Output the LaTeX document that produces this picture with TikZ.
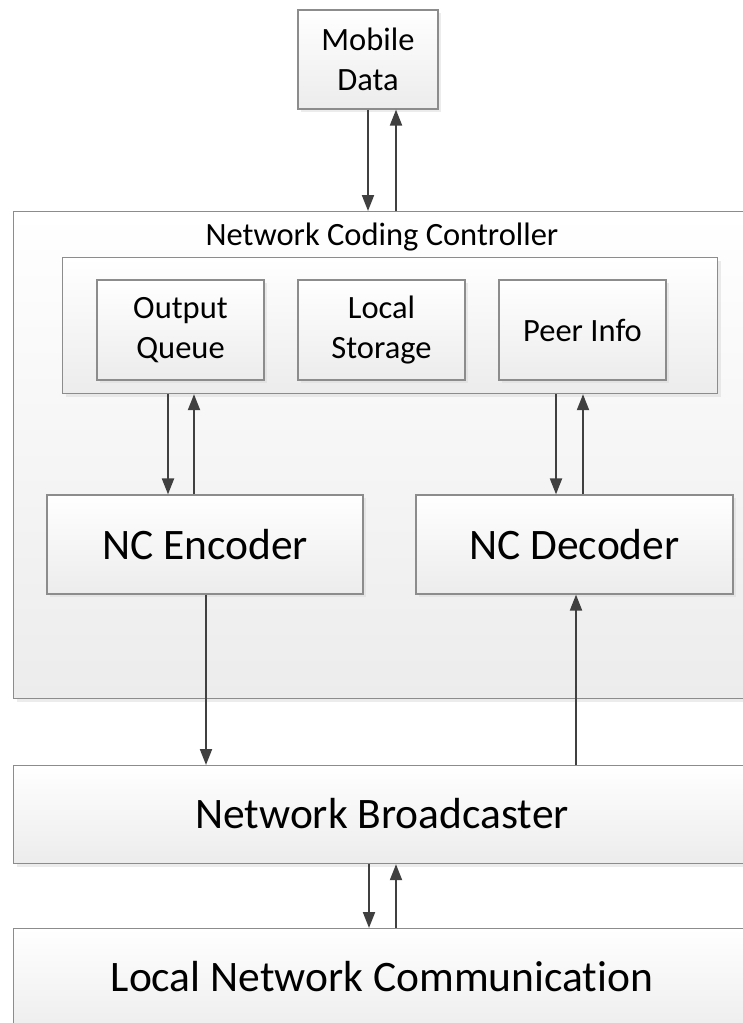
\documentclass[tikz,border=0pt]{standalone}
\usepackage{fontspec}
\setmainfont[Ligatures=NoCommon]{Carlito}
\usetikzlibrary{arrows.meta,shadows,calc}
\definecolor{edge}{RGB}{140,140,140}
\definecolor{boxlow}{RGB}{236,236,236}
\definecolor{wire}{RGB}{64,64,64}
\tikzset{
  blk/.style={draw=edge, line width=1.2pt, top color=white, bottom color=boxlow,
    drop shadow={shadow xshift=3pt, shadow yshift=-3pt, fill=black!15, opacity=0.5},
    inner sep=0pt, align=center, text=black},
  small/.style={font=\fontsize{32.5}{40}\selectfont},
  big/.style={font=\fontsize{43.5}{50}\selectfont},
  arr/.style={draw=wire, line width=2pt, -{Triangle[length=16pt,width=12pt]}}
}
\begin{document}
\begin{tikzpicture}[x=1pt,y=-1pt]
\useasboundingbox (0,0) rectangle (743,1023);

% top-level data source
\node[blk, small, minimum width=140pt, minimum height=99pt] (mob) at (368,59.5) {Mobile\\Data};

% controller group
\node[blk, minimum width=760pt, minimum height=487pt, anchor=north west] (ncc) at (13,211) {};
\node[small, anchor=center] (ncct) at (382,237) {Network Coding Controller};
\node[blk, minimum width=655pt, minimum height=136pt, anchor=north west] (store) at (62,257) {};
\node[blk, small, minimum width=167pt, minimum height=100pt] (oq) at (180.5,330) {Output\\Queue};
\node[blk, small, minimum width=167pt, minimum height=100pt] (ls) at (381.5,330) {Local\\Storage};
\node[blk, small, minimum width=167pt, minimum height=100pt] (pi) at (582.5,330) {Peer Info};
\node[blk, big, minimum width=316pt, minimum height=99pt] (enc) at (205,544.5) {NC Encoder};
\node[blk, big, minimum width=317pt, minimum height=99pt] (dec) at (574.5,544.5) {NC Decoder};

% lower layers
\node[blk, big, minimum width=760pt, minimum height=98pt, anchor=north west] (nb) at (13,765) {};
\node[big] (nbt) at (382,814) {Network Broadcaster};
\node[blk, big, minimum width=760pt, minimum height=110pt, anchor=north west] (lnc) at (13,928) {};
\node[big] (lnct) at (382,977) {Local Network Communication};

% connectors
\draw[arr] (mob.south) -- (mob.south |- ncc.north);
\draw[arr] ([xshift=28pt]mob.south |- ncc.north) -- ([xshift=28pt]mob.south);

\draw[arr] ([xshift=-12.5pt]oq.south |- store.south) -- ([xshift=-12.5pt]oq.south |- enc.north);
\draw[arr] ([xshift=13.5pt]oq.south |- enc.north) -- ([xshift=13.5pt]oq.south |- store.south);

\draw[arr] ([xshift=-26.5pt]pi.south |- store.south) -- ([xshift=-26.5pt]pi.south |- dec.north);
\draw[arr] ([xshift=0.5pt]pi.south |- dec.north) -- ([xshift=0.5pt]pi.south |- store.south);

\draw[arr] ([xshift=1pt]enc.south) -- ([xshift=1pt]enc.south |- nb.north);
\draw[arr] ([xshift=1.5pt]dec.south |- nb.north) -- ([xshift=1.5pt]dec.south);

\draw[arr] ([xshift=1pt]mob.south |- nb.south) -- ([xshift=1pt]mob.south |- lnc.north);
\draw[arr] ([xshift=28pt]mob.south |- lnc.north) -- ([xshift=28pt]mob.south |- nb.south);
\end{tikzpicture}
\end{document}
